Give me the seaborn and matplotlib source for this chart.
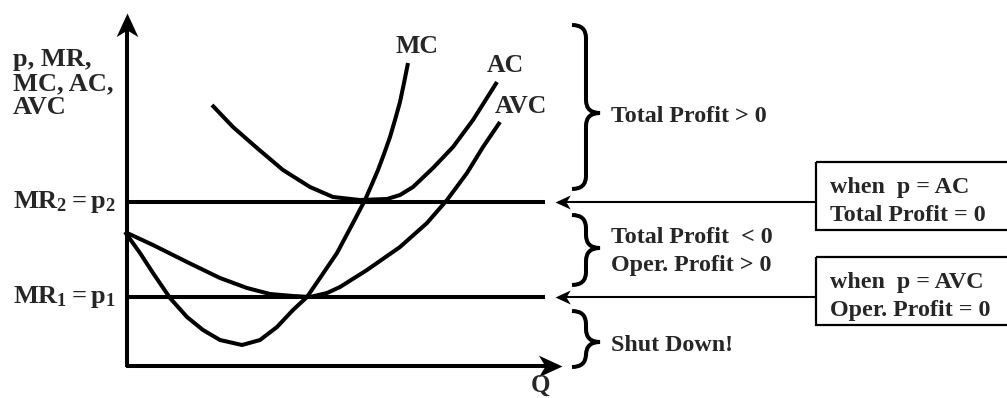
"""
Cost curves diagram: MC, AC, AVC with two price levels and profit regions.
Coordinates are in picture pixels (y grows downward).
"""

import numpy as np
import matplotlib
matplotlib.use("Agg")

import matplotlib.pyplot as plt
import seaborn as sns
from matplotlib.path import Path
from matplotlib.patches import PathPatch, Rectangle
from matplotlib.markers import MarkerStyle
from matplotlib.transforms import Affine2D


# ------------------------ DATA --------------------------

MC_Q = [125, 140, 153, 170, 187, 203, 220, 242, 260, 277, 293, 307, 320, 337,
        353, 365, 372, 378, 384, 390, 395, 400, 404, 408]
MC_P = [232, 253, 273, 298, 317, 330, 340, 345, 340, 327, 310, 297, 278, 253,
        223, 200, 184, 170, 154, 137, 120, 102, 83, 63]

AC_Q = [212, 233, 257, 283, 310, 333, 360, 387, 400, 413, 433, 453, 473, 497]
AC_P = [105, 127, 148, 170, 187, 197, 200, 199, 195, 187, 168, 147, 120, 82]

AVC_Q = [125, 153, 187, 220, 247, 270, 293, 310, 327, 340, 367, 400, 427, 447,
         467, 483, 500]
AVC_P = [232, 245, 262, 278, 288, 294, 296, 297, 293, 287, 270, 247, 223, 200,
         173, 147, 122]

# price levels (MR2 = p2, MR1 = p1)
PRICE_LEVELS = [202, 297]
PRICE_LABELS = [r"$MR_2 = p_2$", r"$MR_1 = p_1$"]

# brace regions: (top, bottom, tip)
BRACES = [(25, 189, 113), (215, 285, 248), (311, 367, 342)]
REGION_TEXT = [["Total Profit > 0"],
               ["Total Profit  < 0", "Oper. Profit > 0"],
               ["Shut Down!"]]

BOX_TEXT = [["when  p = AC", "Total Profit = 0"],
            ["when  p = AVC", "Oper. Profit = 0"]]

Y_LABEL = ["p, MR,", "MC, AC,", "AVC"]
CURVE_LABELS = ["MC", "AC", "AVC"]

# ---------------------- GEOMETRY ------------------------

W, H = 1007, 398
AX_X, AX_Y = 127, 366
Y_TIP, X_TIP = 13, 562
LINE_END = 545
LW = 2.9

FONT = "Liberation Serif"


def stealth(angle):
    verts = [(0, 0), (-1, 0.46), (-0.72, 0), (-1, -0.46), (0, 0)]
    codes = [Path.MOVETO, Path.LINETO, Path.LINETO, Path.LINETO, Path.CLOSEPOLY]
    return MarkerStyle(Path(verts, codes), transform=Affine2D().rotate_deg(angle))


def brace(ax, top, bottom, tip, x0=572, x1=586, x2=600, r=13):
    verts = [(x0, top), (x1, top), (x1, top + r),
             (x1, tip - r), (x1, tip), (x2, tip),
             (x1, tip), (x1, tip + r),
             (x1, bottom - r), (x1, bottom), (x0, bottom)]
    codes = [Path.MOVETO, Path.CURVE3, Path.CURVE3,
             Path.LINETO, Path.CURVE3, Path.CURVE3,
             Path.CURVE3, Path.CURVE3,
             Path.LINETO, Path.CURVE3, Path.CURVE3]
    ax.add_patch(PathPatch(Path(verts, codes), fill=False, lw=LW,
                           edgecolor="black", capstyle="butt"))


def main():
    sns.set_style("white")
    plt.rcParams["font.family"] = [FONT, "DejaVu Serif"]
    plt.rcParams["font.weight"] = "bold"
    plt.rcParams["mathtext.fontset"] = "custom"
    plt.rcParams["mathtext.rm"] = FONT + ":bold"
    plt.rcParams["mathtext.it"] = FONT + ":bold"
    plt.rcParams["mathtext.bf"] = FONT + ":bold"

    fig = plt.figure(figsize=(W / 100, H / 100), dpi=100)
    ax = fig.add_axes([0, 0, 1, 1])
    ax.set_xlim(0, W)
    ax.set_ylim(H, 0)
    ax.axis("off")

    # axes with arrows
    ax.plot([AX_X, AX_X], [AX_Y + 1, Y_TIP + 12], color="black", lw=LW,
            solid_capstyle="butt")
    ax.plot([AX_X - 1, X_TIP - 12], [AX_Y, AX_Y], color="black", lw=LW,
            solid_capstyle="butt")
    ax.plot(AX_X, Y_TIP, marker=stealth(90), ms=34, color="black", mew=0)
    ax.plot(X_TIP, AX_Y, marker=stealth(0), ms=34, color="black", mew=0)
    ax.text(540, 397, "Q", fontsize=18, ha="center", va="bottom")

    # price lines
    for p, lab in zip(PRICE_LEVELS, PRICE_LABELS):
        ax.plot([AX_X, LINE_END], [p, p], color="black", lw=LW,
                solid_capstyle="butt")
        ax.text(13, p + 6, lab, fontsize=19, ha="left", va="baseline")

    # cost curves
    for q, c in [(MC_Q, MC_P), (AC_Q, AC_P), (AVC_Q, AVC_P)]:
        sns.lineplot(x=q, y=c, ax=ax, color="black", lw=LW, legend=False,
                     solid_joinstyle="round", solid_capstyle="butt")

    for lab, (x, y) in zip(CURVE_LABELS, [(395, 53), (487, 72), (495, 113)]):
        ax.text(x, y, lab, fontsize=18.5, ha="left", va="baseline")

    for i, line in enumerate(Y_LABEL):
        ax.text(13, 66 + i * 24, line, fontsize=19, ha="left", va="baseline")

    # braces and region text
    for (top, bottom, tip), lines in zip(BRACES, REGION_TEXT):
        brace(ax, top, bottom, tip)
        base = tip + 9 - (len(lines) - 1) * 14
        for j, line in enumerate(lines):
            ax.text(611, base + j * 28, line, fontsize=17.3, ha="left",
                    va="baseline")

    # boxes with arrows pointing at the price lines
    for p, lines, top in zip(PRICE_LEVELS, BOX_TEXT, [162, 257]):
        ax.add_patch(Rectangle((816, top), 220, 68, fill=False, lw=1.6,
                               edgecolor="black"))
        ax.plot([816, 565], [p, p], color="black", lw=1.5,
                solid_capstyle="butt")
        ax.plot(555, p, marker=stealth(180), ms=22, color="black", mew=0)
        for j, line in enumerate(lines):
            ax.text(830, top + 31 + j * 28, line, fontsize=17.3, ha="left",
                    va="baseline")

    fig.savefig("out.png", dpi=100)
    plt.close(fig)


if __name__ == "__main__":
    main()
